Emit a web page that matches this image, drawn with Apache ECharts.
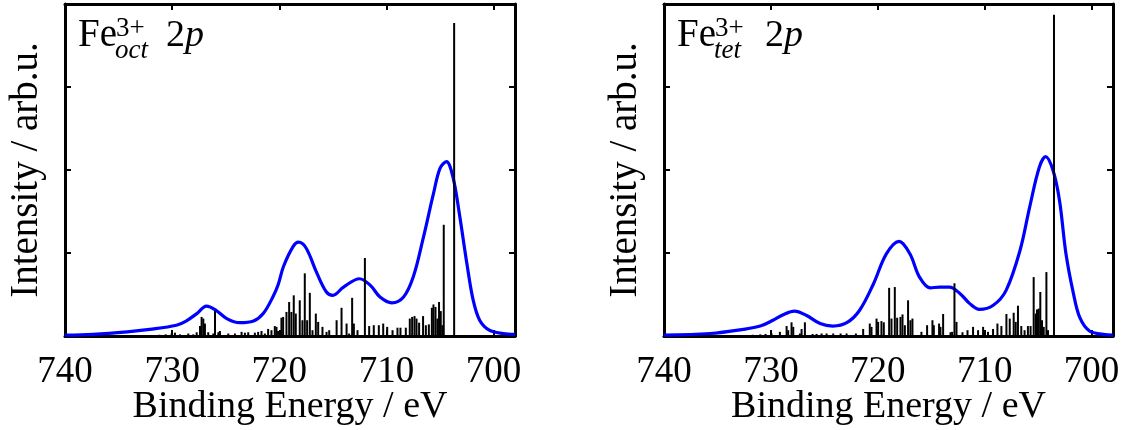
<!DOCTYPE html>
<html>
<head>
<meta charset="utf-8">
<script src="https://cdn.jsdelivr.net/npm/echarts@6.0.0/dist/echarts.min.js"></script>
<style>
  html, body { margin: 0; padding: 0; background: #fff; }
  #chart { width: 1123px; height: 430px; }
</style>
</head>
<body>
<div id="chart"></div>
<script>
// Binding energy ticks (eV), shown on the reversed axis
const energyTicks = [740, 730, 720, 710, 700];
const energyMin = 698;
const energyMax = 740;

// Broadened Fe3+ octahedral 2p spectrum: [binding energy, intensity]
const octEnvelope = [
  [740, 0.01], [737.4, 0.02], [734.2, 0.05], [732.1, 0.08], [729.6, 0.13], [728.7, 0.18],
  [727.7, 0.27], [726.8, 0.36], [725.9, 0.31], [724.9, 0.21], [723.7, 0.16], [722.4, 0.18],
  [721.5, 0.27], [720.6, 0.47], [720.1, 0.62], [719.6, 0.84], [718.7, 1.08], [718.2, 1.13],
  [717.5, 1.06], [716.5, 0.76], [715.6, 0.53], [715.0, 0.49], [714.0, 0.59], [712.5, 0.69],
  [711.5, 0.61], [710.6, 0.47], [709.5, 0.40], [708.4, 0.47], [707.5, 0.71], [706.6, 1.16],
  [705.6, 1.72], [705.0, 2.02], [704.4, 2.10], [703.8, 1.92], [703.2, 1.48], [702.5, 0.88],
  [701.9, 0.43], [701.3, 0.19], [700.4, 0.07], [699.1, 0.03], [698, 0.02]
];

// Multiplet lines, octahedral site: [binding energy, intensity]
const octLines = [
  [732.0, 0.01], [731.2, 0.015], [730.6, 0.02], [730.05, 0.03], [729.74, 0.04], [729.27, 0.02],
  [728.49, 0.03], [728.03, 0.02], [727.71, 0.045], [727.40, 0.12], [727.25, 0.23], [727.09, 0.21],
  [726.94, 0.15], [726.63, 0.045], [726.16, 0.03], [726.00, 0.30], [725.69, 0.045], [725.54, 0.06],
  [724.76, 0.03], [724.14, 0.03], [723.52, 0.05], [723.21, 0.04], [722.90, 0.045], [722.28, 0.04],
  [721.97, 0.05], [721.66, 0.06], [721.35, 0.03], [721.04, 0.085], [720.73, 0.07], [720.42, 0.12],
  [720.26, 0.11], [720.11, 0.06], [719.80, 0.22], [719.64, 0.23], [719.33, 0.29], [719.08, 0.41],
  [718.87, 0.29], [718.65, 0.49], [718.46, 0.27], [718.09, 0.43], [717.84, 0.19], [717.62, 0.755],
  [717.40, 0.19], [717.15, 0.52], [716.90, 0.07], [716.59, 0.27], [716.37, 0.17], [715.97, 0.11],
  [715.59, 0.05], [715.34, 0.07], [714.65, 0.19], [714.19, 0.34], [713.72, 0.15], [713.48, 0.03],
  [713.20, 0.46], [713.04, 0.15], [712.70, 0.07], [712.01, 0.94], [711.61, 0.12], [711.18, 0.13],
  [710.71, 0.13], [710.30, 0.15], [709.93, 0.11], [709.43, 0.07], [708.97, 0.10], [708.69, 0.10],
  [708.19, 0.10], [707.82, 0.21], [707.60, 0.23], [707.38, 0.24], [707.19, 0.21], [706.95, 0.16],
  [706.58, 0.24], [706.32, 0.13], [706.04, 0.14], [705.76, 0.34], [705.61, 0.38], [705.42, 0.35],
  [705.24, 0.21], [705.09, 0.41], [704.93, 0.30], [704.78, 0.13], [704.65, 1.34], [703.68, 3.77]
];

// Broadened Fe3+ tetrahedral 2p spectrum: [binding energy, intensity]
const tetEnvelope = [
  [740, 0.01], [735.7, 0.03], [732.6, 0.08], [731.0, 0.12], [729.8, 0.19], [728.8, 0.26],
  [727.8, 0.30], [726.7, 0.25], [725.4, 0.15], [724.2, 0.12], [722.9, 0.16], [721.7, 0.31],
  [720.4, 0.63], [719.2, 0.99], [718.0, 1.14], [717.0, 0.99], [716.1, 0.71], [715.1, 0.58],
  [714.2, 0.59], [713.3, 0.59], [712.3, 0.51], [711.4, 0.39], [710.5, 0.32], [709.2, 0.37],
  [708.0, 0.55], [706.7, 1.03], [705.8, 1.55], [704.9, 2.03], [704.3, 2.16], [703.6, 1.99],
  [703.0, 1.63], [702.4, 0.99], [701.7, 0.51], [701.1, 0.22], [700.2, 0.06], [698.9, 0.02],
  [698, 0.01]
];

// Multiplet lines, tetrahedral site: [binding energy, intensity]
const tetLines = [
  [732.3, 0.01], [731.7, 0.015], [731.0, 0.02], [730.5, 0.025], [729.94, 0.03], [729.16, 0.05],
  [728.53, 0.12], [728.38, 0.07], [728.07, 0.165], [727.91, 0.11], [727.29, 0.03], [727.13, 0.085],
  [726.82, 0.165], [726.10, 0.025], [725.73, 0.025], [725.26, 0.03], [724.79, 0.03], [724.17, 0.03],
  [723.48, 0.03], [722.92, 0.03], [722.05, 0.03], [721.37, 0.085], [720.75, 0.15], [720.59, 0.11],
  [720.12, 0.21], [719.97, 0.17], [719.66, 0.18], [719.44, 0.165], [718.94, 0.58], [718.72, 0.21],
  [718.41, 0.59], [718.19, 0.22], [717.88, 0.23], [717.69, 0.26], [717.47, 0.13], [717.17, 0.43],
  [716.95, 0.19], [716.76, 0.21], [715.92, 0.05], [715.39, 0.13], [714.89, 0.19], [714.76, 0.13],
  [714.27, 0.15], [714.14, 0.11], [713.89, 0.265], [713.20, 0.045], [713.05, 0.05], [712.83, 0.635],
  [712.64, 0.17], [712.08, 0.045], [711.61, 0.07], [711.09, 0.11], [710.62, 0.07], [710.15, 0.11],
  [709.69, 0.05], [709.22, 0.085], [708.81, 0.15], [708.44, 0.12], [707.97, 0.265], [707.66, 0.21],
  [707.29, 0.28], [707.10, 0.17], [706.89, 0.365], [706.58, 0.12], [706.27, 0.07], [705.96, 0.12],
  [705.71, 0.12], [705.42, 0.71], [705.23, 0.27], [705.11, 0.32], [704.95, 0.33], [704.80, 0.53],
  [704.64, 0.19], [704.48, 0.11], [704.23, 0.77], [704.08, 0.07], [703.52, 3.87]
];

const SERIF = '"Liberation Serif", "Times New Roman", serif';
const BLACK = '#000';

function xAxes(gridIndex) {
  const common = {
    type: 'value', gridIndex: gridIndex, inverse: true,
    min: energyMin, max: energyMax,
    axisLine: { show: true, onZero: false, lineStyle: { color: BLACK, width: 3 } },
    axisTick: { show: true, inside: true, length: 6, customValues: energyTicks,
                lineStyle: { color: BLACK, width: 2 } },
    splitLine: { show: false }
  };
  return [
    Object.assign({}, common, {
      position: 'bottom',
      axisLabel: { show: true, customValues: energyTicks, margin: 18,
                   fontFamily: SERIF, fontSize: 37, color: BLACK },
      name: 'Binding Energy / eV', nameLocation: 'middle', nameGap: 52,
      nameMoveOverlap: false,
      nameTextStyle: { fontFamily: SERIF, fontSize: 38, color: BLACK }
    }),
    Object.assign({}, common, { position: 'top', axisLabel: { show: false } })
  ];
}

function yAxes(gridIndex) {
  const common = {
    type: 'value', gridIndex: gridIndex, min: 0, max: 4, interval: 1,
    axisLine: { show: true, onZero: false, lineStyle: { color: BLACK, width: 3 } },
    axisTick: { show: true, inside: true, length: 6, lineStyle: { color: BLACK, width: 2 } },
    axisLabel: { show: false },
    splitLine: { show: false }
  };
  return [
    Object.assign({}, common, {
      position: 'left',
      name: 'Intensity / arb.u.', nameLocation: 'middle', nameRotate: 90, nameGap: 19,
      nameMoveOverlap: false,
      nameTextStyle: { fontFamily: SERIF, fontSize: 39, color: BLACK }
    }),
    Object.assign({}, common, { position: 'right' })
  ];
}

function lineSeries(data, axisBase) {
  return {
    type: 'custom',
    xAxisIndex: axisBase, yAxisIndex: axisBase,
    data: data,
    encode: { x: 0, y: 1 },
    z: 4,
    silent: true,
    renderItem: function (params, api) {
      const tip = api.coord([api.value(0), api.value(1)]);
      const foot = api.coord([api.value(0), 0]);
      return {
        type: 'line',
        shape: { x1: tip[0], y1: foot[1], x2: tip[0], y2: tip[1] },
        style: { stroke: BLACK, lineWidth: 2 }
      };
    }
  };
}

function envelopeSeries(data, axisBase) {
  return {
    type: 'line',
    xAxisIndex: axisBase, yAxisIndex: axisBase,
    data: data,
    smooth: 0.35,
    showSymbol: false,
    silent: true,
    z: 3,
    lineStyle: { color: '#0000ff', width: 3.2 }
  };
}

// Panel label: element symbol with stacked charge superscript and site subscript
function panelLabel(x0, site) {
  return {
    type: 'group',
    children: [
      { type: 'text', x: x0, y: 36,
        style: { text: 'Fe', font: '39px ' + SERIF, fill: BLACK, verticalAlign: 'middle' } },
      { type: 'text', x: x0 + 38, y: 29,
        style: { text: '3+', font: '27px ' + SERIF, fill: BLACK, verticalAlign: 'middle' } },
      { type: 'text', x: x0 + 37, y: 51,
        style: { text: site, font: 'italic 27px ' + SERIF, fill: BLACK, verticalAlign: 'middle' } },
      { type: 'text', x: x0 + 88, y: 36,
        style: { text: '2', font: '38px ' + SERIF, fill: BLACK, verticalAlign: 'middle' } },
      { type: 'text', x: x0 + 107, y: 36,
        style: { text: 'p', font: 'italic 38px ' + SERIF, fill: BLACK, verticalAlign: 'middle' } }
    ]
  };
}

const chart = echarts.init(document.getElementById('chart'), null, { renderer: 'canvas' });

chart.setOption({
  backgroundColor: '#fff',
  animation: false,
  grid: [
    { left: 65, top: 4, width: 450, height: 332, outerBoundsMode: 'none', containLabel: false },
    { left: 664, top: 4, width: 449, height: 332, outerBoundsMode: 'none', containLabel: false }
  ],
  xAxis: xAxes(0).concat(xAxes(1)),
  yAxis: yAxes(0).concat(yAxes(1)),
  series: [
    envelopeSeries(octEnvelope, 0),
    lineSeries(octLines, 0),
    envelopeSeries(tetEnvelope, 2),
    lineSeries(tetLines, 2)
  ],
  graphic: [
    panelLabel(78, 'oct'),
    panelLabel(677, 'tet')
  ]
});
</script>
</body>
</html>
